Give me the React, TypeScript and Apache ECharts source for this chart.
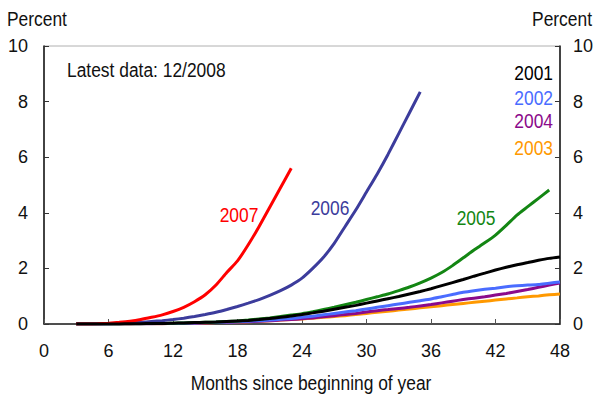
import React, { useEffect, useRef } from "react";
import * as echarts from "echarts";

const startMonth = 3;
const xTicks = [0, 6, 12, 18, 24, 30, 36, 42, 48];
const yTicks = [0, 2, 4, 6, 8, 10];

const y2007 = [0, 0, 0.01, 0.03, 0.06, 0.1, 0.16, 0.24, 0.33, 0.45, 0.6, 0.8, 1.05, 1.4, 1.85, 2.27, 2.85, 3.5, 4.2, 4.9, 5.6];
const y2006 = [0, 0, 0, 0.01, 0.02, 0.04, 0.06, 0.09, 0.12, 0.16, 0.21, 0.27, 0.34, 0.42, 0.52, 0.63, 0.75, 0.88, 1.03, 1.2, 1.4, 1.65, 2.0, 2.4, 2.9, 3.5, 4.1, 4.75, 5.4, 6.1, 6.85, 7.6, 8.35];
const y2005 = [0, 0, 0, 0, 0, 0.01, 0.01, 0.02, 0.02, 0.03, 0.04, 0.05, 0.06, 0.07, 0.09, 0.11, 0.14, 0.18, 0.22, 0.27, 0.32, 0.37, 0.44, 0.52, 0.6, 0.69, 0.78, 0.88, 0.98, 1.08, 1.2, 1.33, 1.48, 1.65, 1.85, 2.1, 2.38, 2.66, 2.92, 3.2, 3.55, 3.92, 4.22, 4.52, 4.82];
const y2001 = [0, 0, 0, 0, 0, 0.01, 0.01, 0.02, 0.02, 0.03, 0.04, 0.05, 0.06, 0.07, 0.09, 0.11, 0.13, 0.16, 0.2, 0.24, 0.29, 0.34, 0.4, 0.46, 0.53, 0.6, 0.67, 0.75, 0.83, 0.91, 0.99, 1.08, 1.17, 1.27, 1.38, 1.49, 1.6, 1.72, 1.83, 1.94, 2.04, 2.13, 2.21, 2.29, 2.36, 2.41];
const y2002 = [0, 0, 0, 0, 0, 0.01, 0.01, 0.01, 0.02, 0.02, 0.03, 0.04, 0.05, 0.06, 0.07, 0.08, 0.1, 0.12, 0.14, 0.17, 0.2, 0.24, 0.28, 0.33, 0.38, 0.43, 0.48, 0.54, 0.6, 0.66, 0.72, 0.78, 0.84, 0.9, 0.98, 1.06, 1.14, 1.2, 1.25, 1.29, 1.34, 1.38, 1.4, 1.42, 1.47, 1.51];
const y2004 = [0, 0, 0, 0, 0, 0, 0.01, 0.01, 0.01, 0.02, 0.02, 0.03, 0.04, 0.05, 0.06, 0.07, 0.08, 0.1, 0.12, 0.14, 0.16, 0.19, 0.22, 0.26, 0.3, 0.34, 0.38, 0.43, 0.48, 0.52, 0.56, 0.6, 0.65, 0.7, 0.76, 0.82, 0.88, 0.93, 0.98, 1.04, 1.1, 1.17, 1.24, 1.32, 1.4, 1.47];
const y2003 = [0, 0, 0, 0, 0, 0, 0.01, 0.01, 0.01, 0.02, 0.02, 0.03, 0.04, 0.05, 0.06, 0.07, 0.08, 0.1, 0.12, 0.14, 0.16, 0.18, 0.21, 0.24, 0.27, 0.3, 0.34, 0.38, 0.42, 0.46, 0.5, 0.54, 0.58, 0.62, 0.66, 0.7, 0.74, 0.78, 0.82, 0.86, 0.9, 0.94, 0.98, 1.01, 1.05, 1.08];

const FONT = "'Liberation Sans', Arial, sans-serif";

const C = {
  y2001: "#000000",
  y2002: "#4a6cff",
  y2003: "#ff9900",
  y2004: "#8b0a8b",
  y2005: "#138613",
  y2006: "#3c3c9c",
  y2007: "#ff0000",
};

const toPairs = (arr: number[]) => arr.map((v, i) => [startMonth + i, v]);

export default function App() {
  const ref = useRef<HTMLDivElement>(null);
  useEffect(() => {
    if (!ref.current) return;
    const chart = echarts.init(ref.current, undefined, { renderer: "svg" });
    const mk = (name: string, data: number[], color: string) => ({
      name,
      type: "line",
      data: toPairs(data),
      showSymbol: false,
      smooth: 0.2,
      lineStyle: { color, width: 3 },
      itemStyle: { color },
      z: 3,
    });
    const axisLabel = { fontSize: 18, color: "#111", fontFamily: FONT };
    const txt = (text: string, x: number, y: number, color: string, align = "left") => ({
      type: "text",
      x,
      y,
      scaleX: 0.87,
      style: { text, fill: color, font: `20px ${FONT}`, textAlign: align, textVerticalAlign: "middle" },
    });
    chart.setOption({
      animation: false,
      grid: { left: 44, right: 34, top: 46, bottom: 72, show: true, borderColor: "#b0b0b0", borderWidth: 1 },
      xAxis: {
        type: "value",
        min: 0,
        max: 48,
        interval: 6,
        axisLine: { show: true, lineStyle: { color: "#222", width: 1.5 } },
        axisTick: { show: true, inside: true, length: 5, lineStyle: { color: "#555" } },
        axisLabel: { ...axisLabel, margin: 18, formatter: (v: number) => (xTicks.includes(v) ? String(v) : "") },
        splitLine: { show: false },
      },
      yAxis: [
        {
          type: "value",
          min: 0,
          max: 10,
          interval: 2,
          position: "left",
          axisLine: { show: true, lineStyle: { color: "#111", width: 1.5 } },
          axisTick: { show: true, inside: true, length: 5, lineStyle: { color: "#333" } },
          axisLabel: { ...axisLabel, margin: 16, formatter: (v: number) => (yTicks.includes(v) ? String(v) : "") },
          splitLine: { show: false },
        },
        {
          type: "value",
          min: 0,
          max: 10,
          interval: 2,
          position: "right",
          axisLine: { show: true, lineStyle: { color: "#111", width: 1.5 } },
          axisTick: { show: true, inside: true, length: 5, lineStyle: { color: "#333" } },
          axisLabel: { ...axisLabel, margin: 13, formatter: (v: number) => (yTicks.includes(v) ? String(v) : "") },
          splitLine: { show: false },
        },
      ],
      series: [
        mk("2003", y2003, C.y2003),
        mk("2004", y2004, C.y2004),
        mk("2002", y2002, C.y2002),
        mk("2005", y2005, C.y2005),
        mk("2006", y2006, C.y2006),
        mk("2007", y2007, C.y2007),
        mk("2001", y2001, C.y2001),
      ],
      graphic: [
        txt("Percent", 7, 19, "#111"),
        txt("Percent", 592, 19, "#111", "right"),
        txt("Latest data: 12/2008", 67, 70, "#111"),
        txt("Months since beginning of year", 311, 383, "#111", "center"),
        txt("2007", 239, 215, C.y2007, "center"),
        txt("2006", 330, 208, C.y2006, "center"),
        txt("2005", 476, 218, C.y2005, "center"),
        txt("2001", 553, 73, C.y2001, "right"),
        txt("2002", 553, 98, C.y2002, "right"),
        txt("2004", 553, 121, C.y2004, "right"),
        txt("2003", 553, 148, C.y2003, "right"),
      ],
    });
    return () => chart.dispose();
  }, []);
  return <div ref={ref} style={{ position: "absolute", left: 0, top: 0, width: 596, height: 396 }} />;
}
